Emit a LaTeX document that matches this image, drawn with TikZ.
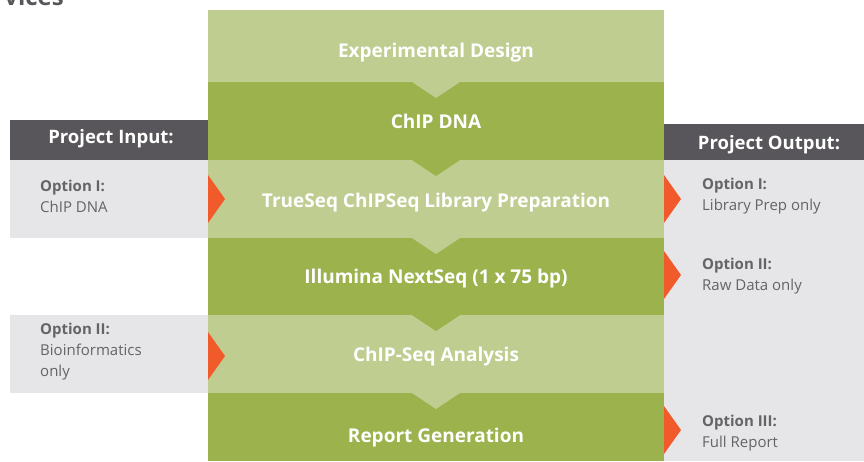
\documentclass[tikz,border=0pt]{standalone}
\usepackage{fontspec}
\setmainfont{Open Sans}
\definecolor{lgreen}{RGB}{191,205,145}
\definecolor{dgreen}{RGB}{155,178,77}
\definecolor{hdr}{RGB}{88,86,90}
\definecolor{lgray}{RGB}{230,230,232}
\definecolor{orng}{RGB}{241,90,43}
\definecolor{txt}{RGB}{99,100,102}
\tikzset{
  band/.style={white,font=\fontsize{19}{22}\selectfont\bfseries,inner sep=0pt},
  hdrtext/.style={white,font=\fontsize{18.5}{21}\selectfont\bfseries,inner sep=0pt},
  opt/.style={txt,font=\fontsize{15}{21}\selectfont,align=left,anchor=north west,inner sep=0pt},
  tri/.style={fill=orng}
}
\begin{document}
\begin{tikzpicture}[x=1pt,y=-1pt]
\useasboundingbox (0,0) rectangle (864,461);
\clip (0,0) rectangle (864,461);
% cut-off heading
\node[anchor=base east,inner sep=0pt,hdr,font=\fontsize{24}{30}\selectfont\bfseries] (head) at (64,5) {vices};
% left panels
\fill[hdr] (10,120) rectangle (208,160);
\fill[lgray] (10,160) rectangle (208,238);
\fill[lgray] (10,315) rectangle (208,393);
% right panels
\fill[hdr] (664,124) rectangle (864,160);
\fill[lgray] (664,160) rectangle (864,461);
% bands
\fill[lgreen] (208,10) rectangle (664,82);
\fill[dgreen] (208,82) rectangle (664,160);
\fill[lgreen] (208,160) rectangle (664,238);
\fill[dgreen] (208,238) rectangle (664,315);
\fill[lgreen] (208,315) rectangle (664,393);
\fill[dgreen] (208,393) rectangle (664,461);
% chevrons
\fill[lgreen] (412,82) -- (460,82) -- (436,98) -- cycle;
\fill[dgreen] (412,160) -- (460,160) -- (436,176) -- cycle;
\fill[lgreen] (412,238) -- (460,238) -- (436,254) -- cycle;
\fill[dgreen] (412,315) -- (460,315) -- (436,331) -- cycle;
\fill[lgreen] (412,393) -- (460,393) -- (436,409) -- cycle;
% orange arrows
\fill[tri] (208,175) -- (225,199) -- (208,223) -- cycle;
\fill[tri] (208,332) -- (225,356) -- (208,380) -- cycle;
\fill[tri] (664,175) -- (681,199) -- (664,223) -- cycle;
\fill[tri] (664,251) -- (681,275) -- (664,299) -- cycle;
\fill[tri] (664,406) -- (681,430) -- (664,454) -- cycle;
% band texts
\node[band] (b1) at (436,53) {Experimental Design};
\node[band] (b2) at (436,121) {ChIP DNA};
\node[band] (b3) at (436,203) {TrueSeq ChIPSeq Library Preparation};
\node[band] (b4) at (436,279) {Illumina NextSeq (1 x 75 bp)};
\node[band] (b5) at (436,357) {ChIP-Seq Analysis};
\node[band] (b6) at (436,438) {Report Generation};
% headers
\node[hdrtext] (hin) at (111,139) {Project Input:};
\node[hdrtext] (hout) at (769,145) {Project Output:};
% options
\node[opt] (i1) at (40,180) {\textbf{Option I:}\\ChIP DNA};
\node[opt] (i2) at (40,323) {\textbf{Option II:}\\Bioinformatics\\only};
\node[opt] (o1) at (702,178) {\textbf{Option I:}\\Library Prep only};
\node[opt] (o2) at (702,258) {\textbf{Option II:}\\Raw Data only};
\node[opt] (o3) at (702,415) {\textbf{Option III:}\\Full Report};
\end{tikzpicture}
\end{document}
